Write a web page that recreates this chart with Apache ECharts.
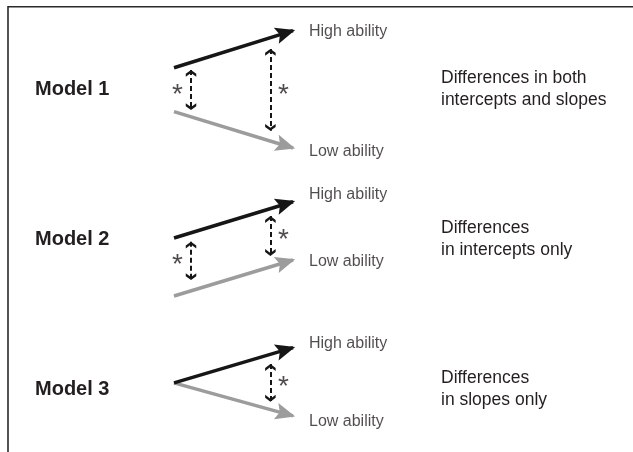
<!DOCTYPE html>
<html>
<head>
<meta charset="utf-8">
<script src="https://cdn.jsdelivr.net/npm/echarts@6/dist/echarts.min.js"></script>
<style>
html,body{margin:0;padding:0;background:#fff;}
#chart{width:633px;height:452px;}
</style>
</head>
<body>
<div id="chart"></div>
<script>
// ---- data (outcome scale 0–10, time scale 0–1) ----
const models = ['Model 1', 'Model 2', 'Model 3'];
const descriptions = ['Differences in both\nintercepts and slopes', 'Differences\nin intercepts only', 'Differences\nin slopes only'];
const groupNames = ['High ability', 'Low ability'];
const highStart = [6.59, 6.57, 5.24];
const highEnd = [9.24, 9.16, 7.91];
const lowStart = [3.45, 2.43, 5.24];
const lowEnd = [0.86, 5.0, 2.74];
// dashed difference arrows: [time, from, to]
const diffArrows = [
  [[0.143, 6.43, 3.57], [0.81, 7.93, 2.09]],
  [[0.143, 6.31, 3.57], [0.81, 8.14, 5.29]],
  [[0.81, 6.66, 3.81]]
];
// significance stars: [time, value]
const stars = [
  [[0.03, 4.93], [0.92, 4.88]],
  [[0.03, 4.88], [0.92, 6.66]],
  [[0.92, 5.24]]
];
const highLabelY = [9.16, 9.64, 8.21];
const lowLabelY = [0.59, 4.88, 2.29];

// ---- layout / style ----
const gridTops = [20, 190, 320];
const modelTitleTops = [77, 227, 377];
const descTops = [67, 217, 367];
const FONT = 'Liberation Sans, Arial, Helvetica, sans-serif';
const TEXT = '#231f20';
const HIGH = '#161616';
const LOW = '#9c9c9c';
const bigArrow = 'path://M-1,-1L-1,-0.99M1,-1L1,-0.99M-1,1L-1,0.99M0,-0.12L0.44,0.92L0,0.72L-0.44,0.92Z';
const smallHead = 'path://M-1,-1L-1,-0.99M1,-1L1,-0.99M-1,1L-1,0.99M0,0L0.75,0.55L0.75,0.98L0,0.42L-0.75,0.98L-0.75,0.55Z';

const grids = [], xAxes = [], yAxes = [], series = [], titles = [];
models.forEach((m, i) => {
  grids.push({left: 174, width: 119, top: gridTops[i], height: 140});
  xAxes.push({gridIndex: i, type: 'value', min: 0, max: 1, show: false});
  yAxes.push({gridIndex: i, type: 'value', min: 0, max: 10, show: false});
  titles.push({text: m, left: 35, top: modelTitleTops[i], padding: 0,
    textStyle: {fontFamily: FONT, fontSize: 20, fontWeight: 'bold', color: TEXT, lineHeight: 24}});
  titles.push({text: descriptions[i], left: 441, top: descTops[i], padding: 0,
    textStyle: {fontFamily: FONT, fontSize: 17.5, fontWeight: 'normal', color: TEXT, lineHeight: 22}});
  // low ability arrow (drawn first)
  series.push({type: 'lines', coordinateSystem: 'cartesian2d', xAxisIndex: i, yAxisIndex: i, clip: false,
    symbol: ['none', bigArrow], symbolSize: 38, silent: true,
    lineStyle: {color: LOW, width: 3.5, opacity: 1, curveness: 0},
    data: [{coords: [[0, lowStart[i]], [1, lowEnd[i]]]}]});
  series.push({type: 'lines', coordinateSystem: 'cartesian2d', xAxisIndex: i, yAxisIndex: i, clip: false,
    symbol: ['none', bigArrow], symbolSize: 38, silent: true,
    lineStyle: {color: HIGH, width: 3.5, opacity: 1, curveness: 0},
    data: [{coords: [[0, highStart[i]], [1, highEnd[i]]]}]});
  series.push({type: 'lines', coordinateSystem: 'cartesian2d', xAxisIndex: i, yAxisIndex: i, clip: false,
    symbol: [smallHead, smallHead], symbolSize: 14, silent: true,
    lineStyle: {color: HIGH, width: 2, type: [5, 3], opacity: 1, curveness: 0},
    data: diffArrows[i].map(d => ({coords: [[d[0], d[1]], [d[0], d[2]]]}))});
  series.push({type: 'scatter', xAxisIndex: i, yAxisIndex: i, symbolSize: 0, clip: false, silent: true,
    label: {show: true, position: 'inside', formatter: '*', offset: [0, 4],
      fontFamily: FONT, fontSize: 28, color: TEXT},
    data: stars[i]});
  series.push({type: 'scatter', xAxisIndex: i, yAxisIndex: i, symbolSize: 0, clip: false, silent: true,
    label: {show: true, position: 'right', distance: 16, fontFamily: FONT, fontSize: 16, color: TEXT,
      formatter: p => p.name},
    data: [{name: groupNames[0], value: [1, highLabelY[i]]}, {name: groupNames[1], value: [1, lowLabelY[i]]}]});
});

const chart = echarts.init(document.getElementById('chart'), null, {renderer: 'canvas'});
chart.setOption({
  animation: false,
  backgroundColor: '#fff',
  title: titles,
  grid: grids,
  xAxis: xAxes,
  yAxis: yAxes,
  graphic: [{type: 'rect', silent: true, shape: {x: 8, y: 6.7, width: 700, height: 600},
    style: {fill: 'none', stroke: '#2a2a2a', lineWidth: 1.6}}],
  series: series
});
</script>
</body>
</html>
